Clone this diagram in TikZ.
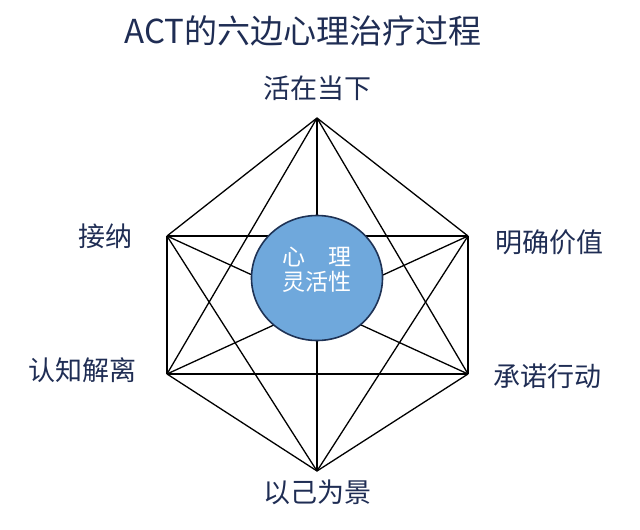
\documentclass[tikz,border=0pt]{standalone}
\usepackage{fontspec}
\setmainfont{Noto Sans CJK SC}
\usetikzlibrary{positioning}
\usetikzlibrary{shapes.geometric}
\usepackage{xcolor}

\definecolor{navy}{RGB}{31,45,84}
\definecolor{flexblue}{RGB}{111,168,220}
\definecolor{flexrim}{RGB}{30,50,85}

\begin{document}
\begin{tikzpicture}[x=1pt,y=-1pt,
  edge/.style={black, line width=1.3pt},
  vlabel/.style={text=navy, inner sep=0pt, font=\fontsize{27}{27}\selectfont}]

\useasboundingbox (0,0) rectangle (640,530);

% title
\node[text=navy, inner sep=0pt, font=\fontsize{33}{33}\selectfont] (title) at (303,31) {ACT的六边心理治疗过程};

% corners
{
\coordinate (top) at (317,118);
\coordinate (ul) at (167,236);
\coordinate (ur) at (468,236);
\coordinate (ll) at (167,374);
\coordinate (lr) at (468,374);
\coordinate (bot) at (317,471);
}

% outer hexagon
\draw[edge] (top)--(ur);
\draw[edge] (ur)--(lr);
\draw[edge] (lr)--(bot);
\draw[edge] (bot)--(ll);
\draw[edge] (ll)--(ul);
\draw[edge] (ul)--(top);

% inner lines
\draw[edge] (top)--(ll);
\draw[edge] (top)--(lr);
\draw[edge] (top)--(bot);
\draw[edge] (bot)--(ul);
\draw[edge] (bot)--(ur);
\draw[edge] (ul)--(ur);
\draw[edge] (ul)--(lr);
\draw[edge] (ll)--(ur);
\draw[edge] (ll)--(lr);

% centre
\node[ellipse, draw=flexrim, line width=1.6pt, fill=flexblue, minimum width=131pt, minimum height=125pt, inner sep=0pt] (core) at (317,278) {};
\node[text=white, inner sep=0pt, align=center, font=\fontsize{23}{25}\selectfont] (coretext) at ([yshift=8pt]core.center) {心\hspace{1em}理\\灵活性};

% labels
{
\node[vlabel, above=17pt of top] (now) {活在当下};
\node[vlabel, left=34pt of ul] (accept) {接纳};
\node[vlabel, right=27pt of ur, yshift=-6pt] (values) {明确价值};
\node[vlabel, left=30pt of ll, yshift=4pt] (defuse) {认知解离};
\node[vlabel, right=25pt of lr, yshift=-2pt] (commit) {承诺行动};
\node[vlabel, below=9pt of bot] (self) {以己为景};
}

\end{tikzpicture}
\end{document}
